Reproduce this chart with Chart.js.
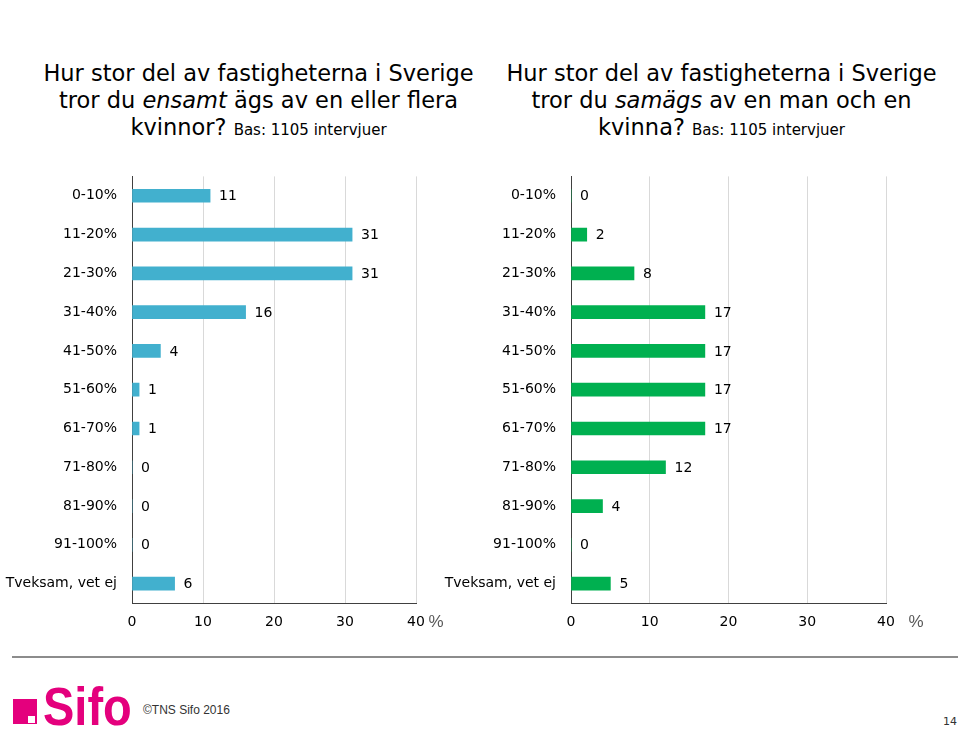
<!DOCTYPE html>
<html><head><meta charset="utf-8">
<script src="https://cdn.jsdelivr.net/npm/chart.js@4.4.1/dist/chart.umd.min.js"></script>
<style>
html,body{margin:0;padding:0;background:#fff;}
body{width:960px;height:732px;position:relative;overflow:hidden;font-family:"DejaVu Sans",Verdana,sans-serif;color:#000;}
.title{position:absolute;top:60px;text-align:center;font-size:22.5px;line-height:27px;white-space:nowrap;}
.title .bas{font-size:15px;}
#t1{left:20px;width:477px;}
#t2{left:483px;width:477px;}
.cw{position:absolute;top:153px;height:487px;}
#w1{left:0;width:450px;}
#w2{left:430px;width:530px;}
#sep{position:absolute;left:12px;top:656px;width:946px;height:2px;background:#8c8c8c;}
#logo{position:absolute;left:12px;top:672px;height:60px;width:140px;}
#sq{position:absolute;left:1px;top:27px;width:24px;height:25px;background:#E4007D;}
#sq i{position:absolute;right:2px;bottom:1px;width:7px;height:7px;background:#fff;}
#sifo{position:absolute;left:31px;top:4px;font-family:"Liberation Sans",Arial,sans-serif;font-weight:bold;font-size:54px;line-height:60px;color:#E4007D;transform:scaleX(0.87);transform-origin:left top;}
#copy{position:absolute;left:143px;top:703px;font-family:"Liberation Sans",Arial,sans-serif;font-size:12px;color:#333;}
#pg{position:absolute;left:943px;top:715px;font-family:"DejaVu Sans",Verdana,sans-serif;font-size:11px;color:#333;}
</style>
</head><body>
<div class="title" id="t1">Hur stor del av fastigheterna i Sverige<br>tror du <i>ensamt</i> ägs av en eller flera<br>kvinnor? <span class="bas">Bas: 1105 intervjuer</span></div>
<div class="title" id="t2">Hur stor del av fastigheterna i Sverige<br>tror du <i>samägs</i> av en man och en<br>kvinna? <span class="bas">Bas: 1105 intervjuer</span></div>
<div class="cw" id="w1"><canvas id="c1"></canvas></div>
<div class="cw" id="w2"><canvas id="c2"></canvas></div>
<div id="sep"></div>
<div id="logo"><div id="sq"><i></i></div><div id="sifo">Sifo</div></div>
<div id="copy">©TNS Sifo 2016</div>
<div id="pg">14</div>
<script>
const categories = ["0-10%","11-20%","21-30%","31-40%","41-50%","51-60%","61-70%","71-80%","81-90%","91-100%","Tveksam, vet ej"];
const ensamtKvinnor = [11,31,31,16,4,1,1,0,0,0,6];
const samagsManKvinna = [0,2,8,17,17,17,17,12,4,0,5];
const xMin = 0, xMax = 40, xStep = 10;
const unitLabel = "%";

const FONT = "'DejaVu Sans', Verdana, sans-serif";

const valueLabels = {
  id: 'valueLabels',
  afterDatasetsDraw(chart) {
    const ctx = chart.ctx;
    const meta = chart.getDatasetMeta(0);
    const vals = chart.data.datasets[0].data;
    ctx.save();
    ctx.font = "14px " + FONT;
    ctx.fillStyle = "#000";
    ctx.textAlign = "left";
    ctx.textBaseline = "middle";
    meta.data.forEach((el, i) => {
      ctx.fillText(String(vals[i]), el.x + 9, el.y + 1);
    });
    ctx.restore();
  }
};

const unitPlugin = {
  id: 'unitPlugin',
  afterDraw(chart, args, opts) {
    const xs = chart.scales.x;
    const ctx = chart.ctx;
    ctx.save();
    ctx.font = "17px 'Liberation Sans', Arial, sans-serif";
    ctx.fillStyle = "#595959";
    ctx.textAlign = "center";
    ctx.textBaseline = "middle";
    ctx.fillText(unitLabel, xs.getPixelForValue(xMax) + opts.offset, xs.top + 19);
    ctx.restore();
  }
};

function makeChart(id, values, color, yWidth, padRight, unitOffset) {
  return new Chart(document.getElementById(id), {
    type: 'bar',
    data: { labels: categories, datasets: [{ data: values, backgroundColor: color, borderWidth: 0, barThickness: 13 }] },
    plugins: [valueLabels, unitPlugin],
    options: {
      indexAxis: 'y',
      responsive: true,
      maintainAspectRatio: false,
      animation: false,
      layout: { padding: { top: 0, right: padRight, left: 0, bottom: 0 } },
      plugins: { legend: { display: false }, tooltip: { enabled: false }, unitPlugin: { offset: unitOffset } },
      scales: {
        x: {
          min: xMin, max: xMax,
          ticks: { stepSize: xStep, color: '#000', font: { size: 14, family: FONT }, padding: 11, maxRotation: 0 },
          grid: { drawTicks: false, color: c => (c.tick && c.tick.value === 0) ? 'rgba(0,0,0,0)' : '#d9d9d9', lineWidth: 1 },
          border: { display: true, color: '#404040', width: 1 },
          afterFit: s => { s.height = 37; }
        },
        y: {
          ticks: { color: '#000', font: { size: 14, family: FONT }, padding: 15 },
          grid: { display: false, drawTicks: false },
          border: { display: true, color: '#404040', width: 1 },
          afterFit: s => { s.width = yWidth; }
        }
      }
    }
  });
}

makeChart('c1', ensamtKvinnor, '#42B0CE', 132, 34, 20);
makeChart('c2', samagsManKvinna, '#00B050', 141, 74, 30);
</script>
</body></html>
